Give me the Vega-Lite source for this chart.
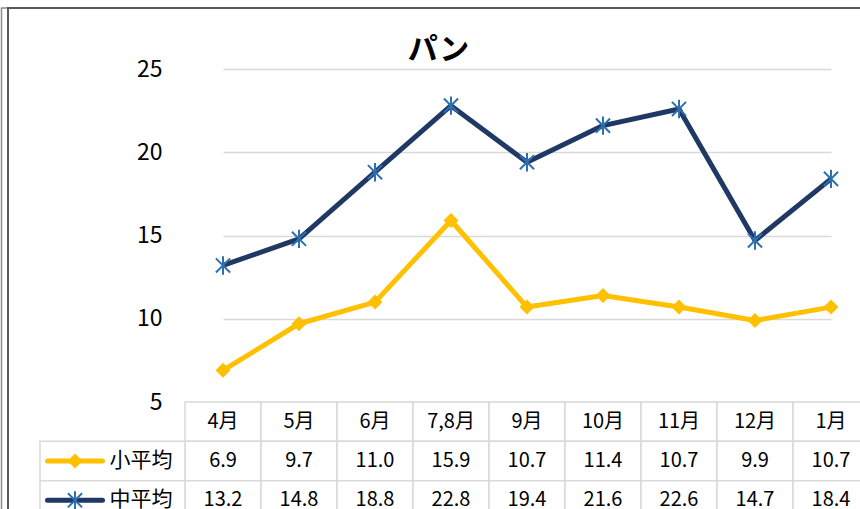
{
  "$schema": "https://vega.github.io/schema/vega-lite/v6.json",
  "autosize": {"type": "none"},
  "width": 675,
  "height": 440,
  "padding": {"left": 185, "top": 69, "right": 0, "bottom": 0},
  "background": "white",
  "config": {"view": {"stroke": null}, "font": "Noto Sans CJK JP"},
  "title": {"text": "パン", "fontSize": 30, "fontWeight": "bold", "font": "Noto Sans CJK JP", "anchor": "middle", "frame": "group", "dx": -84, "offset": -88, "baseline": "bottom", "color": "#000000"},
  "data": {"values": [
    {"月": "4月", "系列": "小平均", "値": 6.9},
    {"月": "5月", "系列": "小平均", "値": 9.7},
    {"月": "6月", "系列": "小平均", "値": 11.0},
    {"月": "7,8月", "系列": "小平均", "値": 15.9},
    {"月": "9月", "系列": "小平均", "値": 10.7},
    {"月": "10月", "系列": "小平均", "値": 11.4},
    {"月": "11月", "系列": "小平均", "値": 10.7},
    {"月": "12月", "系列": "小平均", "値": 9.9},
    {"月": "1月", "系列": "小平均", "値": 10.7},
    {"月": "4月", "系列": "中平均", "値": 13.2},
    {"月": "5月", "系列": "中平均", "値": 14.8},
    {"月": "6月", "系列": "中平均", "値": 18.8},
    {"月": "7,8月", "系列": "中平均", "値": 22.8},
    {"月": "9月", "系列": "中平均", "値": 19.4},
    {"月": "10月", "系列": "中平均", "値": 21.6},
    {"月": "11月", "系列": "中平均", "値": 22.6},
    {"月": "12月", "系列": "中平均", "値": 14.7},
    {"月": "1月", "系列": "中平均", "値": 18.4}
  ]},
  "resolve": {"scale": {"x": "independent", "y": "independent", "color": "independent", "stroke": "independent", "fill": "independent", "shape": "independent", "size": "independent"}},
  "layer": [
    {
      "transform": [{"filter": "datum['月'] == '4月' && datum['系列'] == '小平均'"}],
      "mark": {"type": "rect", "fill": null, "fillOpacity": 0, "stroke": "#8c8c8c", "strokeWidth": 1.5},
      "encoding": {
        "x": {"datum": "frame", "type": "nominal", "axis": null, "scale": {"type": "band", "domain": ["frame"], "range": [-183.5, 700], "paddingInner": 0, "paddingOuter": 0}},
        "y": {"datum": "frame", "type": "nominal", "axis": null, "scale": {"type": "band", "domain": ["frame"], "range": [-61, 470], "paddingInner": 0, "paddingOuter": 0}}
      }
    },
    {
      "transform": [{"filter": "datum['月'] == '4月' && datum['系列'] == '小平均'"}],
      "mark": {"type": "rect", "fill": null, "fillOpacity": 0, "stroke": "#595959", "strokeWidth": 2},
      "encoding": {
        "x": {"datum": "frame", "type": "nominal", "axis": null, "scale": {"type": "band", "domain": ["frame"], "range": [-177, 700], "paddingInner": 0, "paddingOuter": 0}},
        "y": {"datum": "frame", "type": "nominal", "axis": null, "scale": {"type": "band", "domain": ["frame"], "range": [-61, 470], "paddingInner": 0, "paddingOuter": 0}}
      }
    },
    {
      "transform": [{"filter": "datum['系列'] == '小平均'"}],
      "mark": {"type": "rect", "fill": "white", "stroke": "#D9D9D9", "strokeWidth": 1.5},
      "encoding": {
        "x": {"field": "月", "type": "nominal", "axis": null, "scale": {"type": "band", "domain": ["4月", "5月", "6月", "7,8月", "9月", "10月", "11月", "12月", "1月"], "range": [0, 684], "paddingInner": 0, "paddingOuter": 0}},
        "y": {"datum": "header", "type": "nominal", "axis": null, "scale": {"type": "band", "domain": ["header", "小平均", "中平均"], "range": [333, 451], "paddingInner": 0, "paddingOuter": 0}}
      }
    },
    {
      "mark": {"type": "rect", "fill": "white", "stroke": "#D9D9D9", "strokeWidth": 1.5},
      "encoding": {
        "x": {"field": "月", "type": "nominal", "axis": null, "scale": {"type": "band", "domain": ["4月", "5月", "6月", "7,8月", "9月", "10月", "11月", "12月", "1月"], "range": [0, 684], "paddingInner": 0, "paddingOuter": 0}},
        "y": {"field": "系列", "type": "nominal", "axis": null, "scale": {"type": "band", "domain": ["header", "小平均", "中平均"], "range": [333, 451], "paddingInner": 0, "paddingOuter": 0}}
      }
    },
    {
      "transform": [{"filter": "datum['月'] == '4月'"}],
      "mark": {"type": "rect", "fill": "white", "stroke": "#D9D9D9", "strokeWidth": 1.5},
      "encoding": {
        "x": {"datum": "key", "type": "nominal", "axis": null, "scale": {"type": "band", "domain": ["key"], "range": [-145, 0], "paddingInner": 0, "paddingOuter": 0}},
        "y": {"field": "系列", "type": "nominal", "axis": null, "scale": {"type": "band", "domain": ["header", "小平均", "中平均"], "range": [333, 451], "paddingInner": 0, "paddingOuter": 0}}
      }
    },
    {
      "transform": [{"filter": "datum['系列'] == '小平均'"}],
      "mark": {"type": "text", "fontSize": 20, "color": "#000000", "baseline": "middle", "align": "center"},
      "encoding": {
        "x": {"field": "月", "type": "nominal", "axis": null, "bandPosition": 0.5, "scale": {"type": "band", "domain": ["4月", "5月", "6月", "7,8月", "9月", "10月", "11月", "12月", "1月"], "range": [0, 684], "paddingInner": 0, "paddingOuter": 0}},
        "y": {"datum": "header", "type": "nominal", "axis": null, "bandPosition": 0.5, "scale": {"type": "band", "domain": ["header", "小平均", "中平均"], "range": [333, 451], "paddingInner": 0, "paddingOuter": 0}},
        "text": {"field": "月", "type": "nominal"}
      }
    },
    {
      "mark": {"type": "text", "fontSize": 20, "color": "#000000", "baseline": "middle", "align": "center"},
      "encoding": {
        "x": {"field": "月", "type": "nominal", "axis": null, "bandPosition": 0.5, "scale": {"type": "band", "domain": ["4月", "5月", "6月", "7,8月", "9月", "10月", "11月", "12月", "1月"], "range": [0, 684], "paddingInner": 0, "paddingOuter": 0}},
        "y": {"field": "系列", "type": "nominal", "axis": null, "bandPosition": 0.5, "scale": {"type": "band", "domain": ["header", "小平均", "中平均"], "range": [333, 451], "paddingInner": 0, "paddingOuter": 0}},
        "text": {"field": "値", "type": "quantitative", "format": ".1f"}
      }
    },
    {
      "transform": [{"filter": "datum['系列'] == '小平均'"}],
      "mark": {"type": "line", "color": "#FFC000", "strokeWidth": 5, "strokeJoin": "round"},
      "encoding": {
        "x": {"field": "月", "type": "nominal", "sort": null, "axis": null, "scale": {"type": "point", "domain": ["4月", "5月", "6月", "7,8月", "9月", "10月", "11月", "12月", "1月"], "range": [38, 646], "padding": 0}},
        "y": {"field": "値", "type": "quantitative", "scale": {"type": "linear", "domain": [5, 25], "range": [333, 0], "nice": false, "zero": false},
          "axis": {"values": [5, 10, 15, 20, 25], "title": null, "grid": true, "gridColor": "#D9D9D9", "gridWidth": 1.5, "domain": false, "ticks": false, "labelPadding": 23, "labelFontSize": 23, "labelColor": "#000000", "labelFont": "Noto Sans CJK JP"}}
      }
    },
    {
      "transform": [{"filter": "datum['系列'] == '中平均'"}],
      "mark": {"type": "line", "color": "#1F3864", "strokeWidth": 5, "strokeJoin": "round"},
      "encoding": {
        "x": {"field": "月", "type": "nominal", "sort": null, "axis": null, "scale": {"type": "point", "domain": ["4月", "5月", "6月", "7,8月", "9月", "10月", "11月", "12月", "1月"], "range": [38, 646], "padding": 0}},
        "y": {"field": "値", "type": "quantitative", "axis": null, "scale": {"type": "linear", "domain": [5, 25], "range": [333, 0], "nice": false, "zero": false}}
      }
    },
    {
      "transform": [{"filter": "datum['系列'] == '小平均'"}],
      "mark": {"type": "point", "shape": "diamond", "filled": true, "color": "#FFC000", "size": 225, "opacity": 1},
      "encoding": {
        "x": {"field": "月", "type": "nominal", "axis": null, "scale": {"type": "point", "domain": ["4月", "5月", "6月", "7,8月", "9月", "10月", "11月", "12月", "1月"], "range": [38, 646], "padding": 0}},
        "y": {"field": "値", "type": "quantitative", "axis": null, "scale": {"type": "linear", "domain": [5, 25], "range": [333, 0], "nice": false, "zero": false}}
      }
    },
    {
      "transform": [{"filter": "datum['系列'] == '中平均'"}],
      "mark": {"type": "point", "shape": "M-1,-1L1,1M-1,1L1,-1M0,-1.3L0,1.3", "filled": false, "stroke": "#2E6FB0", "strokeWidth": 2, "size": 200, "opacity": 1},
      "encoding": {
        "x": {"field": "月", "type": "nominal", "axis": null, "scale": {"type": "point", "domain": ["4月", "5月", "6月", "7,8月", "9月", "10月", "11月", "12月", "1月"], "range": [38, 646], "padding": 0}},
        "y": {"field": "値", "type": "quantitative", "axis": null, "scale": {"type": "linear", "domain": [5, 25], "range": [333, 0], "nice": false, "zero": false}}
      }
    },
    {
      "transform": [{"filter": "datum['月'] == '4月' && datum['系列'] == '小平均'"}],
      "mark": {"type": "point", "shape": "M-1,0L1,0", "filled": false, "stroke": "#FFC000", "strokeWidth": 5, "strokeCap": "round", "size": 3025, "opacity": 1},
      "encoding": {
        "x": {"datum": "sym", "type": "nominal", "axis": null, "scale": {"type": "point", "domain": ["sym", "lab"], "range": [-110, -44], "padding": 0}},
        "y": {"field": "系列", "type": "nominal", "axis": null, "bandPosition": 0.5, "scale": {"type": "band", "domain": ["header", "小平均", "中平均"], "range": [333, 451], "paddingInner": 0, "paddingOuter": 0}}
      }
    },
    {
      "transform": [{"filter": "datum['月'] == '4月' && datum['系列'] == '小平均'"}],
      "mark": {"type": "point", "shape": "diamond", "filled": true, "color": "#FFC000", "size": 225, "opacity": 1},
      "encoding": {
        "x": {"datum": "sym", "type": "nominal", "axis": null, "scale": {"type": "point", "domain": ["sym", "lab"], "range": [-110, -44], "padding": 0}},
        "y": {"field": "系列", "type": "nominal", "axis": null, "bandPosition": 0.5, "scale": {"type": "band", "domain": ["header", "小平均", "中平均"], "range": [333, 451], "paddingInner": 0, "paddingOuter": 0}}
      }
    },
    {
      "transform": [{"filter": "datum['月'] == '4月' && datum['系列'] == '中平均'"}],
      "mark": {"type": "point", "shape": "M-1,0L1,0", "filled": false, "stroke": "#1F3864", "strokeWidth": 5, "strokeCap": "round", "size": 3025, "opacity": 1},
      "encoding": {
        "x": {"datum": "sym", "type": "nominal", "axis": null, "scale": {"type": "point", "domain": ["sym", "lab"], "range": [-110, -44], "padding": 0}},
        "y": {"field": "系列", "type": "nominal", "axis": null, "bandPosition": 0.5, "scale": {"type": "band", "domain": ["header", "小平均", "中平均"], "range": [333, 451], "paddingInner": 0, "paddingOuter": 0}}
      }
    },
    {
      "transform": [{"filter": "datum['月'] == '4月' && datum['系列'] == '中平均'"}],
      "mark": {"type": "point", "shape": "M-1,-1L1,1M-1,1L1,-1M0,-1.3L0,1.3", "filled": false, "stroke": "#2E6FB0", "strokeWidth": 2, "size": 200, "opacity": 1},
      "encoding": {
        "x": {"datum": "sym", "type": "nominal", "axis": null, "scale": {"type": "point", "domain": ["sym", "lab"], "range": [-110, -44], "padding": 0}},
        "y": {"field": "系列", "type": "nominal", "axis": null, "bandPosition": 0.5, "scale": {"type": "band", "domain": ["header", "小平均", "中平均"], "range": [333, 451], "paddingInner": 0, "paddingOuter": 0}}
      }
    },
    {
      "transform": [{"filter": "datum['月'] == '4月'"}],
      "mark": {"type": "text", "fontSize": 21, "color": "#000000", "baseline": "middle", "align": "center"},
      "encoding": {
        "x": {"datum": "lab", "type": "nominal", "axis": null, "scale": {"type": "point", "domain": ["sym", "lab"], "range": [-110, -44], "padding": 0}},
        "y": {"field": "系列", "type": "nominal", "axis": null, "bandPosition": 0.5, "scale": {"type": "band", "domain": ["header", "小平均", "中平均"], "range": [333, 451], "paddingInner": 0, "paddingOuter": 0}},
        "text": {"field": "系列", "type": "nominal"}
      }
    }
  ]
}
